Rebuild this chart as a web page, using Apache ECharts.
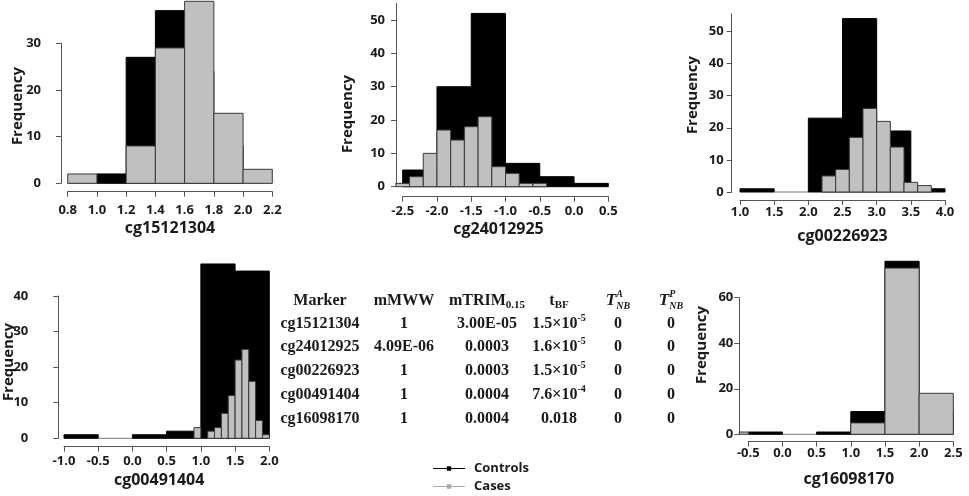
<!DOCTYPE html>
<html><head><meta charset="utf-8">
<script src="https://cdn.jsdelivr.net/npm/echarts@6/dist/echarts.min.js"></script>
<style>html,body{margin:0;padding:0;background:#fff}#c{width:969px;height:496px}</style>
</head><body><div id="c"></div>
<script>
// ================= DATA =================
const markers = ['cg15121304','cg24012925','cg00226923','cg00491404','cg16098170'];

// Panel 1 : cg15121304
const p1ControlEdges = [0.8,1.0,1.2,1.4,1.6,1.8,2.0,2.2];
const p1Controls     = [0,2,27,37,24,8,0];
const p1CaseEdges    = [0.8,1.0,1.2,1.4,1.6,1.8,2.0,2.2];
const p1Cases        = [2,0,8,29,39,15,3];

// Panel 2 : cg24012925
const p2ControlEdges = [-2.5,-2.0,-1.5,-1.0,-0.5,0.0,0.5];
const p2Controls     = [5,30,52,7,3,1];
const p2CaseEdges    = [-2.6,-2.4,-2.2,-2.0,-1.8,-1.6,-1.4,-1.2,-1.0,-0.8,-0.6,-0.4];
const p2Cases        = [1,3,10,17,14,18,21,6,4,1,1];

// Panel 3 : cg00226923
const p3ControlEdges = [1.0,1.5,2.0,2.5,3.0,3.5,4.0];
const p3Controls     = [1,0,23,54,19,1];
const p3CaseEdges    = [2.2,2.4,2.6,2.8,3.0,3.2,3.4,3.6,3.8];
const p3Cases        = [5,7,17,26,22,14,3,2];

// Panel 4 : cg00491404
const p4ControlEdges = [-1.0,-0.5,0.0,0.5,1.0,1.5,2.0];
const p4Controls     = [1,0,1,2,49,47];
const p4CaseEdges    = [0.9,1.0,1.1,1.2,1.3,1.4,1.5,1.6,1.7,1.8,1.9,2.0];
const p4Cases        = [3,0,2,3,7,12,22,25,16,5,1];

// Panel 5 : cg16098170
const p5ControlEdges = [-0.5,0.0,0.5,1.0,1.5,2.0,2.5];
const p5Controls     = [1,0,1,10,76,10];
const p5CaseEdges    = [-1.0,-0.5,0.0,0.5,1.0,1.5,2.0,2.5];
const p5Cases        = [1,0,0,0,5,73,18];

// Axis ticks
const p1XTicks = [0.8,2.2,0.2], p1YTicks = [0,10,20,30];
const p2XTicks = [-2.5,0.5,0.5], p2YTicks = [0,10,20,30,40,50];
const p3XTicks = [1.0,4.0,0.5],  p3YTicks = [0,10,20,30,40,50];
const p4XTicks = [-1.0,2.0,0.5], p4YTicks = [0,10,20,30,40];
const p5XTicks = [-0.5,2.5,0.5], p5YTicks = [0,20,40,60];

// Table
const tableHeads = ['Marker','mMWW','mTRIM_0.15','t_BF','T^A_NB','T^P_NB'];
const colMMWW  = ['1','4.09E-06','1','1','1'];
const colMTRIM = ['3.00E-05','0.0003','0.0003','0.0004','0.0004'];
const colTBF   = ['1.5×10^-5','1.6×10^-5','1.5×10^-5','7.6×10^-4','0.018'];
const colTA    = ['0','0','0','0','0'];
const colTP    = ['0','0','0','0','0'];

const legendNames = ['Controls','Cases'];

// ================= LAYOUT =================
const FONT = '"Open Sans", "DejaVu Sans", sans-serif';
const SERIF = '"Liberation Serif", "Times New Roman", serif';
const TXT = '#1a1a1a', AXC = '#555';
const panels = [
  {ce:p1ControlEdges, c:p1Controls, ke:p1CaseEdges, k:p1Cases, xt:p1XTicks, yt:p1YTicks, yMax:30, xlo:0.75,
   box:[67.7,43.3,204.6,140], xOff:8.4, yOff:6.7, xLM:12, yLM:20, gap:29, npad:[0,0,0,0], freq:[18,106]},
  {ce:p2ControlEdges, c:p2Controls, ke:p2CaseEdges, k:p2Cases, xt:p2XTicks, yt:p2YTicks, yMax:55, xlo:-2.6,
   box:[402.7,3.4,205.6,183.3], xOff:10, yOff:6.7, xLM:8, yLM:11, gap:25, npad:[0,14,0,0], freq:[348,114]},
  {ce:p3ControlEdges, c:p3Controls, ke:p3CaseEdges, k:p3Cases, xt:p3XTicks, yt:p3YTicks, yMax:55.5, xlo:0.88,
   box:[740,13.8,205,178.2], xOff:8, yOff:8.3, xLM:6, yLM:8, gap:28, npad:[0,0,0,0], freq:[693,95]},
  {ce:p4ControlEdges, c:p4Controls, ke:p4CaseEdges, k:p4Cases, xt:p4XTicks, yt:p4YTicks, yMax:40, xlo:-1.08,
   box:[64,296,205.3,142.3], xOff:8.4, yOff:5.7, xLM:8, yLM:30, gap:26, npad:[0,15,0,0], freq:[9,362]},
  {ce:p5ControlEdges, c:p5Controls, ke:p5CaseEdges, k:p5Cases, xt:p5XTicks, yt:p5YTicks, yMax:60, xlo:-0.63,
   box:[748.3,297.7,205,136.6], xOff:7.4, yOff:9, xLM:5, yLM:6, gap:30, npad:[0,4,0,0], freq:[702,345]}
];

const grids=[], xAxes=[], yAxes=[], series=[], graphics=[];

function histSeries(name, gi, edges, counts, xlo, fill, stroke, zeroStroke){
  const data = counts.map((v,i)=>[edges[i], edges[i+1], v]);
  return {
    type:'custom', name, xAxisIndex:gi, yAxisIndex:gi, clip:false, silent:true,
    itemStyle:{color:fill}, encode:{x:[0,1], y:2}, data,
    renderItem(params, api){
      const a = Math.max(api.value(0), xlo), b = api.value(1), v = api.value(2);
      const p0 = api.coord([a,0]), p1 = api.coord([b,v]);
      if (v === 0){
        if (!zeroStroke) return;
        return {type:'line', shape:{x1:p0[0],y1:p0[1],x2:p1[0],y2:p0[1]}, style:{stroke:zeroStroke, lineWidth:1}};
      }
      return {type:'rect', shape:{x:p0[0], y:p1[1], width:p1[0]-p0[0], height:p0[1]-p1[1]},
              style:{fill, stroke, lineWidth:1}};
    }
  };
}

panels.forEach((p,i)=>{
  grids.push({left:p.box[0], top:p.box[1], width:p.box[2], height:p.box[3], outerBoundsMode:'none', containLabel:false});
  xAxes.push({type:'value', gridIndex:i, min:p.xt[0], max:p.xt[1], interval:p.xt[2], offset:p.xOff,
    axisLine:{show:true, onZero:false, lineStyle:{color:AXC, width:1}},
    axisTick:{show:true, length:5, lineStyle:{color:AXC}},
    axisLabel:{margin:p.xLM, fontSize:13, fontWeight:'bold', color:TXT, fontFamily:FONT, formatter:v=>v.toFixed(1)},
    splitLine:{show:false},
    name:markers[i], nameLocation:'middle', nameGap:p.gap,
    nameTextStyle:{fontSize:16, fontWeight:'bold', color:TXT, fontFamily:FONT, padding:p.npad}});
  yAxes.push({type:'value', gridIndex:i, min:0, max:p.yMax, interval:p.yt[1]-p.yt[0], offset:p.yOff,
    axisLine:{show:true, onZero:false, lineStyle:{color:AXC, width:1}},
    axisTick:{show:true, length:5, lineStyle:{color:AXC}, customValues:p.yt},
    axisLabel:{margin:p.yLM, fontSize:13, fontWeight:'bold', color:TXT, fontFamily:FONT, customValues:p.yt},
    splitLine:{show:false}});
  series.push(histSeries(legendNames[0], i, p.ce, p.c, p.xlo, '#000', '#000', '#777'));
  series.push(histSeries(legendNames[1], i, p.ke, p.k, p.xlo, '#c0c0c0', '#3a3a3a', null));
  graphics.push({type:'text', x:p.freq[0], y:p.freq[1], rotation:Math.PI/2, silent:true,
    style:{text:'Frequency', font:'bold 15px '+FONT, fill:TXT, align:'center', verticalAlign:'middle'}});
});

// ---- table (composite text with sub/superscripts) ----
const mctx = document.createElement('canvas').getContext('2d');
function fstr(p){ return (p.it?'italic ':'')+'bold '+p.s+'px '+SERIF; }
function composite(cx, cy, pieces){
  let x=0, prevStart=0; const starts=[];
  pieces.forEach(p=>{
    mctx.font = fstr(p); const w = mctx.measureText(p.t).width;
    let st;
    if (p.stack){ st = prevStart; x = Math.max(x, st+w); } else { st = x; x += w; }
    starts.push(st); prevStart = st;
  });
  const x0 = cx - x/2;
  pieces.forEach((p,i)=>{
    graphics.push({type:'text', x:x0+starts[i], y:cy+(p.dy||0), silent:true,
      style:{text:p.t, font:fstr(p), fill:TXT, align:'left', verticalAlign:'middle'}});
  });
}
function parseCell(str){
  const B=16, S=10;
  let m;
  if ((m = str.match(/^(.+)\^(.+)_(.+)$/))) return [{t:m[1],s:B+1,it:true},{t:m[2],s:S,it:true,dy:-7},{t:m[3],s:S,it:true,dy:5,stack:true}];
  if ((m = str.match(/^(.+)\^(.+)$/))) return [{t:m[1],s:B},{t:m[2],s:S,dy:-6}];
  if ((m = str.match(/^(.+)_(.+)$/))) return [{t:m[1],s:B},{t:m[2],s:11,dy:4}];
  return [{t:str,s:B}];
}
const colX = [320,404,487,559,618,671];
const headY = 301, rowY = [324,347,371,395,419];
tableHeads.forEach((h,j)=>composite(colX[j], headY, parseCell(h)));
const cols = [markers, colMMWW, colMTRIM, colTBF, colTA, colTP];
cols.forEach((col,j)=>col.forEach((v,r)=>composite(colX[j], rowY[r], parseCell(v))));

const legendBase = {
  orient:'vertical', left:433, itemWidth:32, itemHeight:8, itemGap:0, padding:0,
  icon:'path://M0,9H60V11H0Z M26,6H34V14H26Z',
  textStyle:{fontSize:13, fontWeight:'bold', color:TXT, fontFamily:FONT, padding:[0,0,0,4]}
};
const chart = echarts.init(document.getElementById('c'), null, {renderer:'canvas'});
chart.setOption({
  animation:false,
  backgroundColor:'#fff',
  grid:grids, xAxis:xAxes, yAxis:yAxes, series,
  legend:[
    Object.assign({}, legendBase, {top:462, data:[{name:legendNames[0], itemStyle:{color:'#000'}}]}),
    Object.assign({}, legendBase, {top:480, data:[{name:legendNames[1], itemStyle:{color:'#a8a8a8'}}]})
  ],
  graphic:graphics
});
</script></body></html>
